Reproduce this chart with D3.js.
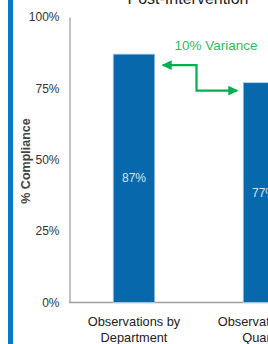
<!DOCTYPE html>
<html><head><meta charset="utf-8">
<script src="https://cdn.jsdelivr.net/npm/d3@7"></script>
<style>html,body{margin:0;padding:0;background:#fff;overflow:hidden}</style>
</head><body>
<svg id="c" width="268" height="344"></svg>
<script>
const categories = [["Observations by","Department"],["Observations by","Quarter"]];
const values = [87, 77];
const yTicks = [0, 25, 50, 75, 100];
const title = "Post-Intervention";
const yLabel = "% Compliance";
const varianceLabel = "10% Variance";

const svg = d3.select("#c");
const font = "'Liberation Sans', Arial, sans-serif";

// left stripe
svg.append("rect").attr("x",8).attr("y",0).attr("width",5).attr("height",344).attr("fill","#0a78c8");

const x = d3.scaleBand().domain(d3.range(categories.length)).range([69, 329]).paddingInner(0.68).paddingOuter(0.34);
const y = d3.scaleLinear().domain([0,100]).range([302.5, 17]);

// title
svg.append("text").attr("x",188).attr("y",4).attr("text-anchor","middle")
  .attr("font-family",font).attr("font-size",16).attr("fill","#222").text(title);

// y axis
const yAxis = d3.axisLeft(y).tickValues(yTicks).tickFormat(d=>d+"%").tickSize(0).tickPadding(10);
const gy = svg.append("g").attr("transform","translate(69.5,0)").call(yAxis);
gy.select(".domain").attr("stroke","#a0a0a0").attr("stroke-width",1.3);
gy.selectAll("text").attr("font-family",font).attr("font-size",12).attr("fill","#333");

// x axis
const xAxis = d3.axisBottom(x).tickSize(0).tickFormat("");
const gx = svg.append("g").attr("transform","translate(0,302.5)").call(xAxis);
gx.select(".domain").attr("stroke","#a0a0a0").attr("stroke-width",1.3).attr("d","M69,0H340");

// bars
svg.selectAll("rect.bar").data(values).enter().append("rect").attr("class","bar")
  .attr("x",(d,i)=>x(i)).attr("width",x.bandwidth())
  .attr("y",d=>y(d)).attr("height",d=>y(0)-y(d))
  .attr("fill","#0868ac").attr("stroke","#b7d2ea").attr("stroke-width",0.8);

// bar labels
svg.selectAll("text.bl").data(values).enter().append("text").attr("class","bl")
  .attr("x",(d,i)=>x(i)+x.bandwidth()/2).attr("y",d=>(y(d)+y(0))/2+4)
  .attr("text-anchor","middle").attr("font-family",font).attr("font-size",12)
  .attr("fill","#d6e6f5").text(d=>d+"%");

// category labels
categories.forEach((c,i)=>{
  const t = svg.append("text").attr("x",x(i)+x.bandwidth()/2).attr("text-anchor","middle")
    .attr("font-family",font).attr("font-size",12.8).attr("fill","#222");
  c.forEach((line,j)=>t.append("tspan").attr("x",x(i)+x.bandwidth()/2).attr("y",325.5+j*16).text(line));
});

// y label
svg.append("text").attr("transform","translate(30,161) rotate(-90)").attr("text-anchor","middle")
  .attr("font-family",font).attr("font-size",12.5).attr("font-weight","bold").attr("fill","#444").text(yLabel);

// variance arrow
const green = "#00b050";
const defs = svg.append("defs");
defs.append("marker").attr("id","ah").attr("viewBox","0 0 10 10").attr("refX",9).attr("refY",5)
  .attr("markerWidth",4.5).attr("markerHeight",4.5).attr("orient","auto-start-reverse")
  .append("path").attr("d","M0,0L10,5L0,10Z").attr("fill",green);
const xl = x(0)+x.bandwidth()+8, xr = x(1)-6, xm = 196.5;
const yl = y(values[0])+11, yr = y(values[1])+8;
svg.append("path").attr("d",`M${xl},${yl}H${xm}V${yr}H${xr}`).attr("fill","none")
  .attr("stroke",green).attr("stroke-width",2.2)
  .attr("marker-start","url(#ah)").attr("marker-end","url(#ah)");
svg.append("text").attr("x",216).attr("y",49.5).attr("text-anchor","middle")
  .attr("font-family",font).attr("font-size",13.5).attr("fill","#2dbb5d").text(varianceLabel);
</script>
</body></html>
